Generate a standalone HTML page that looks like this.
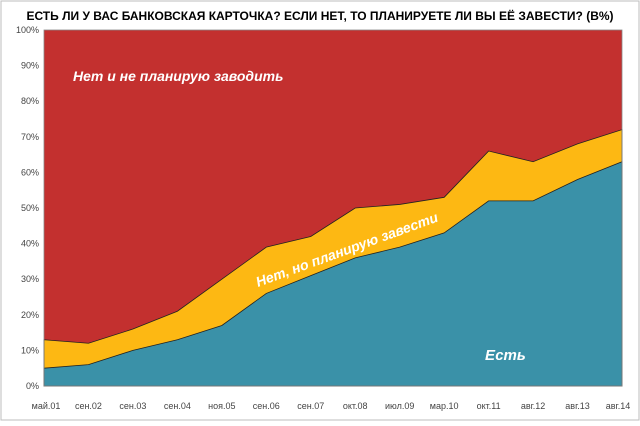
<!DOCTYPE html>
<html><head><meta charset="utf-8"><style>
body{margin:0;background:#fff;font-family:"Liberation Sans",sans-serif;}
svg text{font-family:"Liberation Sans",sans-serif;}
</style></head><body>
<svg width="640" height="421" xmlns="http://www.w3.org/2000/svg">
<rect x="1" y="1" width="638" height="419" fill="#fff" stroke="#bdbdbd"/>
<text x="320" y="20" text-anchor="middle" font-size="12" font-weight="bold" fill="#000">ЕСТЬ ЛИ У ВАС БАНКОВСКАЯ КАРТОЧКА? ЕСЛИ НЕТ, ТО ПЛАНИРУЕТЕ ЛИ ВЫ ЕЁ ЗАВЕСТИ? (В%)</text>
<g id="plot"></g>
</svg>
<script>
const categories=["май.01","сен.02","сен.03","сен.04","ноя.05","сен.06","сен.07","окт.08","июл.09","мар.10","окт.11","авг.12","авг.13","авг.14"];
const have=[5,6,10,13,17,26,31,36,39,43,52,52,58,63];
const plan=[8,6,6,8,13,13,11,14,12,10,14,11,10,9];
const yTicks=[0,10,20,30,40,50,60,70,80,90,100];
const L=44,R=622,T=30,B=386;
const x=i=>L+i*(R-L)/(categories.length-1);
const y=v=>B-v*(B-T)/100;
const g=document.getElementById('plot');
const NS="http://www.w3.org/2000/svg";
function mk(t,a){const e=document.createElementNS(NS,t);for(const k in a)e.setAttribute(k,a[k]);g.appendChild(e);return e;}
let r=mk('rect',{x:L,y:T,width:R-L,height:B-T,fill:'#c3302f'});


const cum=have.map((v,i)=>v+plan[i]);
let p1=categories.map((c,i)=>x(i)+','+y(cum[i])).join(' ');
let a2=mk('polygon',{points:p1+' '+R+','+B+' '+L+','+B,fill:'#fdb813',stroke:'#222','stroke-width':0.8});


let p2=categories.map((c,i)=>x(i)+','+y(have[i])).join(' ');
let a3=mk('polygon',{points:p2+' '+R+','+B+' '+L+','+B,fill:'#3a91a8',stroke:'#222','stroke-width':0.8});


mk('rect',{x:L,y:T,width:R-L,height:B-T,fill:'none',stroke:'#888','stroke-width':0.8});
yTicks.forEach(v=>{let t=mk('text',{x:L-5,y:y(v)+3,'text-anchor':'end','font-size':9,fill:'#444'});t.textContent=v+'%';

});
categories.forEach((c,i)=>{let t=mk('text',{x:x(i)-(i==0?-2:i==categories.length-1?4:0),y:409,'text-anchor':'middle','font-size':9,fill:'#444'});t.textContent=c;

});
let l1=mk('text',{x:73,y:81,'font-size':14,'font-weight':'bold','font-style':'italic',fill:'#fff'});l1.textContent='Нет и не планирую заводить';


let l2=mk('text',{x:0,y:0,'font-size':14,'font-weight':'bold','font-style':'italic',fill:'#fff',transform:'translate(258,287) rotate(-20)'});l2.textContent='Нет, но планирую завести';


let l3=mk('text',{x:485,y:360,'font-size':15,'font-weight':'bold','font-style':'italic',fill:'#fff'});l3.textContent='Есть';


</script>
</body></html>
